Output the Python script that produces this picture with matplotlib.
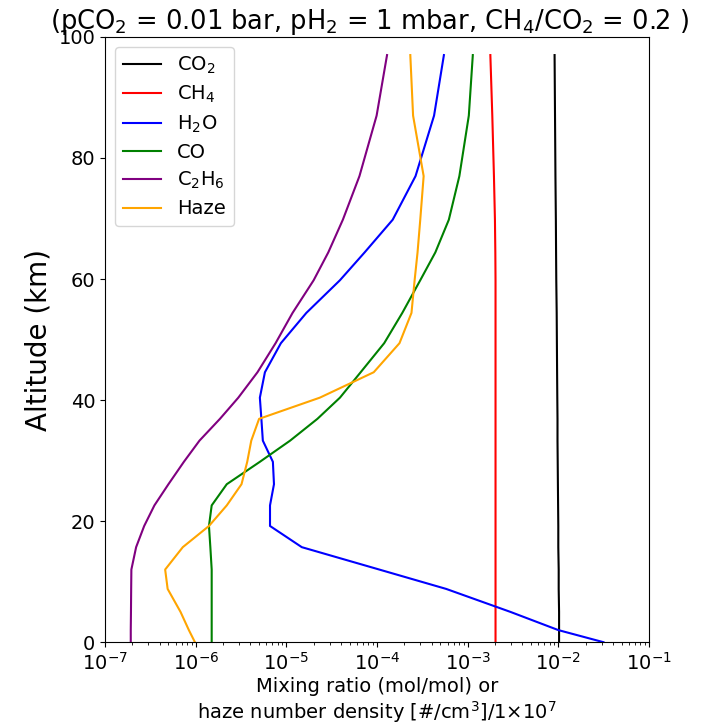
import matplotlib
matplotlib.use("Agg")
import matplotlib.pyplot as plt

altitude = [0, 2, 5, 8.8, 12, 15.7, 19.2, 22.6, 26.1, 29.8, 33.3, 36.9, 40.4,
            44.6, 49.4, 54.4, 59.8, 64.4, 69.8, 77, 87, 97]

co2 = [1.02e-2, 1.02e-2, 1.02e-2, 1.01e-2, 1.01e-2, 1.0e-2, 1.0e-2, 9.95e-3,
       9.9e-3, 9.85e-3, 9.8e-3, 9.8e-3, 9.75e-3, 9.7e-3, 9.65e-3, 9.6e-3,
       9.5e-3, 9.45e-3, 9.4e-3, 9.3e-3, 9.2e-3, 9.1e-3]
ch4 = [2.03e-3, 2.03e-3, 2.03e-3, 2.03e-3, 2.03e-3, 2.03e-3, 2.03e-3, 2.03e-3,
       2.03e-3, 2.03e-3, 2.03e-3, 2.03e-3, 2.03e-3, 2.03e-3, 2.03e-3, 2.03e-3,
       2.03e-3, 2.02e-3, 2.0e-3, 1.95e-3, 1.87e-3, 1.78e-3]
h2o = [3.15e-2, 1.0e-2, 2.97e-3, 5.8e-4, 1.06e-4, 1.48e-5, 6.6e-6, 6.6e-6,
       7.3e-6, 7.1e-6, 5.5e-6, 5.3e-6, 5.1e-6, 5.8e-6, 8.7e-6, 1.66e-5,
       3.9e-5, 7.3e-5, 1.49e-4, 2.66e-4, 4.26e-4, 5.47e-4]
co = [1.5e-6, 1.5e-6, 1.5e-6, 1.5e-6, 1.5e-6, 1.45e-6, 1.4e-6, 1.5e-6,
      2.2e-6, 5.1e-6, 1.1e-5, 2.2e-5, 3.9e-5, 6.6e-5, 1.2e-4, 1.9e-4,
      3.0e-4, 4.4e-4, 6.2e-4, 8.1e-4, 1.03e-3, 1.14e-3]
c2h6 = [1.92e-7, 1.92e-7, 1.93e-7, 1.94e-7, 1.95e-7, 2.2e-7, 2.7e-7, 3.5e-7,
        5.0e-7, 7.4e-7, 1.1e-6, 1.85e-6, 2.95e-6, 4.8e-6, 7.6e-6, 1.17e-5,
        2.0e-5, 2.9e-5, 4.2e-5, 6.4e-5, 9.9e-5, 1.29e-4]
haze = [9.8e-7, 8.4e-7, 6.8e-7, 4.9e-7, 4.6e-7, 7.2e-7, 1.4e-6, 2.2e-6,
        3.2e-6, 3.7e-6, 4.1e-6, 5.0e-6, 2.34e-5, 9.2e-5, 1.77e-4, 2.4e-4,
        2.6e-4, 2.8e-4, 3.0e-4, 3.27e-4, 2.5e-4, 2.33e-4]

series = [
    ("CO$_2$", co2, "black"),
    ("CH$_4$", ch4, "red"),
    ("H$_2$O", h2o, "blue"),
    ("CO", co, "green"),
    ("C$_2$H$_6$", c2h6, "purple"),
    ("Haze", haze, "orange"),
]

fig = plt.figure(figsize=(7.1, 7.24), dpi=100)
ax = fig.add_axes([0.148, 0.113, 0.766, 0.836])
for label, vals, color in series:
    ax.plot(vals, altitude, color=color, lw=1.5, label=label)

ax.set_xscale("log")
ax.set_xlim(1e-7, 1e-1)
ax.set_ylim(0, 100)
ax.tick_params(labelsize=14)
ax.set_ylabel("Altitude (km)", fontsize=20)
ax.set_xlabel("Mixing ratio (mol/mol) or\nhaze number density [#/cm$^3$]/1$\\times$10$^7$",
              fontsize=14, labelpad=2)
ax.set_title("(pCO$_2$ = 0.01 bar, pH$_2$ = 1 mbar, CH$_4$/CO$_2$ = 0.2 )",
             fontsize=18.5, pad=6, x=0.486)
ax.legend(loc="upper left", fontsize=14, labelspacing=0.42)

fig.savefig("out.png", dpi=100)
